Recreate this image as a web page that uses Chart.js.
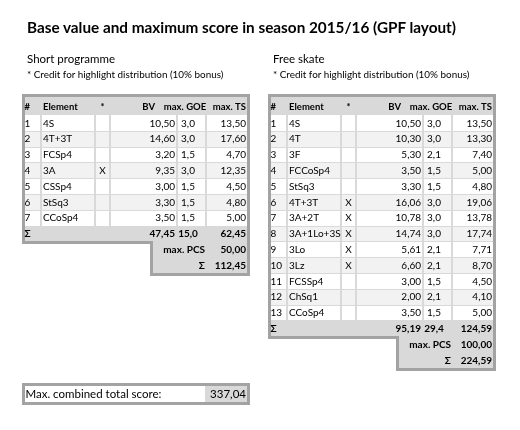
<!DOCTYPE html>
<html>
<head>
<meta charset="utf-8">
<title>Base value and maximum score in season 2015/16</title>
<script src="https://cdn.jsdelivr.net/npm/chart.js@4.4.0/dist/chart.umd.min.js"></script>
<style>
  body { margin: 0; background: #fff; }
  #wrap { position: relative; width: 520px; height: 430px; font-family: Lato, "Open Sans", sans-serif; color: #000; }
  #scores { position: absolute; left: 0; top: 0; }
  .txt { position: absolute; white-space: nowrap; }
  .title { left: 27px; top: 17px; font-size: 15.3px; font-weight: bold; line-height: 20px; }
  .section { top: 51px; font-size: 11.5px; line-height: 16px; }
  .note { top: 68px; font-size: 9.9px; line-height: 13px; }
</style>
</head>
<body>
<div id="wrap">
  <canvas id="scores" width="520" height="430"></canvas>
  <div class="txt title">Base value and maximum score in season 2015/16 (GPF layout)</div>
  <div class="txt section" style="left:27px">Short programme</div>
  <div class="txt note" style="left:27px">* Credit for highlight distribution (10% bonus)</div>
  <div class="txt section" style="left:273px">Free skate</div>
  <div class="txt note" style="left:273px">* Credit for highlight distribution (10% bonus)</div>
</div>
<script>
const HEADERS = ["#", "Element", "*", "BV", "max. GOE", "max. TS"];

// short programme
const SP_ELEMENTS = ["4S", "4T+3T", "FCSp4", "3A", "CSSp4", "StSq3", "CCoSp4"];
const SP_BONUS = ["", "", "", "X", "", "", ""];
const SP_BV = [10.50, 14.60, 3.20, 9.35, 3.00, 3.30, 3.50];
const SP_GOE = [3.0, 3.0, 1.5, 3.0, 1.5, 1.5, 1.5];
const SP_TS = [13.50, 17.60, 4.70, 12.35, 4.50, 4.80, 5.00];
const SP_SUMS = [47.45, 15.0, 62.45];
const SP_PCS = 50.00;
const SP_TOTAL = 112.45;

// free skate
const FS_ELEMENTS = ["4S", "4T", "3F", "FCCoSp4", "StSq3", "4T+3T", "3A+2T", "3A+1Lo+3S", "3Lo", "3Lz", "FCSSp4", "ChSq1", "CCoSp4"];
const FS_BONUS = ["", "", "", "", "", "X", "X", "X", "X", "X", "", "", ""];
const FS_BV = [10.50, 10.30, 5.30, 3.50, 3.30, 16.06, 10.78, 14.74, 5.61, 6.60, 3.00, 2.00, 3.50];
const FS_GOE = [3.0, 3.0, 2.1, 1.5, 1.5, 3.0, 3.0, 3.0, 2.1, 2.1, 1.5, 2.1, 1.5];
const FS_TS = [13.50, 13.30, 7.40, 5.00, 4.80, 19.06, 13.78, 17.74, 7.71, 8.70, 4.50, 4.10, 5.00];
const FS_SUMS = [95.19, 29.4, 124.59];
const FS_PCS = 100.00;
const FS_TOTAL = 224.59;

const COMBINED_LABEL = "Max. combined total score:";
const COMBINED_TOTAL = 337.04;

// layout (x in px units, y in table rows)
const ROW_H = 15.8;
const FIRST_ROW_TOP = 115;
const Y_MIN = 1 - FIRST_ROW_TOP / ROW_H;
const Y_MAX = Y_MIN + 430 / ROW_H;
const HEADER_TOP = 1 - 18 / ROW_H;
const BOX_ROW = 1 + (386 - FIRST_ROW_TOP) / ROW_H;
const SP_LEFT = 22, FS_LEFT = 268;
const TABLE_W = 228, BORDER = 3;
const COL_EDGES = [3, 19, 73, 88, 155, 184, 225];
const COL_X = [2.5, 21, 80.5, 153, 166, 224];
const HEAD_X = [2.5, 21, 80.5, 133, 163, 224];
const COL_ALIGN = ["left", "left", "center", "right", "center", "right"];
const BLOCK_X = 131, LABEL_X = 183, BOX_VALUE_X = 183;

const BORDER_COLOR = "#a3a3a3";
const GRAY = "#d9d9d9";
const ALT = "#f2f2f2";
const SEP = "#d9d9d9";

const fmt2 = v => v.toFixed(2).replace(".", ",");
const fmt1 = v => v.toFixed(1).replace(".", ",");

function cell(x, y, text, align, bold, head) {
  return { x, y, text, align, bold: !!bold, head: !!head };
}

function buildTable(left, elements, bonus, bv, goe, ts, sums, pcs, total) {
  const pts = [];
  const headMid = (HEADER_TOP + 1) / 2;
  HEADERS.forEach((h, c) => pts.push(cell(left + HEAD_X[c], headMid, h, COL_ALIGN[c], true, true)));
  elements.forEach((el, i) => {
    const y = i + 1.5;
    const row = [String(i + 1), el, bonus[i], fmt2(bv[i]), fmt1(goe[i]), fmt2(ts[i])];
    row.forEach((t, c) => { if (t) pts.push(cell(left + COL_X[c], y, t, COL_ALIGN[c])); });
  });
  const n = elements.length;
  pts.push(cell(left + COL_X[0], n + 1.5, "Σ", "left", true));
  pts.push(cell(left + COL_X[3], n + 1.5, fmt2(sums[0]), "right", true));
  pts.push(cell(left + COL_X[4], n + 1.5, fmt1(sums[1]), "center", true));
  pts.push(cell(left + COL_X[5], n + 1.5, fmt2(sums[2]), "right", true));
  pts.push(cell(left + LABEL_X, n + 2.5, "max. PCS", "right", true));
  pts.push(cell(left + COL_X[5], n + 2.5, fmt2(pcs), "right", true));
  pts.push(cell(left + LABEL_X, n + 3.5, "Σ", "right", true));
  pts.push(cell(left + COL_X[5], n + 3.5, fmt2(total), "right", true));
  return pts;
}

function drawFrame(chart, left, n) {
  const { ctx, scales: { x, y } } = chart;
  const px = v => Math.round(x.getPixelForValue(left + v));
  const py = v => Math.round(y.getPixelForValue(v));
  const xL = px(0), xR = px(TABLE_W), xIn = px(BORDER), xOut = px(TABLE_W - BORDER), xB = px(BLOCK_X);
  const yT = py(HEADER_TOP), yS = py(n + 2), yE = py(n + 4);
  ctx.save();
  ctx.fillStyle = BORDER_COLOR;
  ctx.beginPath();
  ctx.moveTo(xL, yT - BORDER);
  ctx.lineTo(xR, yT - BORDER);
  ctx.lineTo(xR, yE + BORDER);
  ctx.lineTo(xB - BORDER, yE + BORDER);
  ctx.lineTo(xB - BORDER, yS + BORDER);
  ctx.lineTo(xL, yS + BORDER);
  ctx.closePath();
  ctx.fill();

  ctx.fillStyle = GRAY;
  ctx.fillRect(xIn, yT, xOut - xIn, py(1) - yT);
  for (let r = 1; r <= n; r++) {
    ctx.fillStyle = r % 2 ? "#ffffff" : ALT;
    ctx.fillRect(xIn, py(r), xOut - xIn, py(r + 1) - py(r));
  }
  ctx.fillStyle = GRAY;
  ctx.fillRect(xIn, py(n + 1), xOut - xIn, yS - py(n + 1));
  ctx.fillRect(xB, yS, xOut - xB, yE - yS);

  ctx.strokeStyle = SEP;
  ctx.lineWidth = 2;
  ctx.beginPath();
  COL_EDGES.slice(1, -1).forEach(e => {
    ctx.moveTo(px(e), py(1));
    ctx.lineTo(px(e), py(n + 1));
  });
  ctx.stroke();
  ctx.lineWidth = 1;
  ctx.beginPath();
  for (let r = 2; r <= n; r++) {
    ctx.moveTo(xIn, py(r) + 0.5);
    ctx.lineTo(xOut, py(r) + 0.5);
  }
  ctx.stroke();
  ctx.restore();
}

function drawBox(chart, left) {
  const { ctx, scales: { x, y } } = chart;
  const px = v => Math.round(x.getPixelForValue(left + v));
  const y0 = Math.round(y.getPixelForValue(BOX_ROW)), y1 = Math.round(y.getPixelForValue(BOX_ROW + 1));
  ctx.save();
  ctx.fillStyle = BORDER_COLOR;
  ctx.fillRect(px(0), y0 - BORDER, px(TABLE_W) - px(0), y1 - y0 + 2 * BORDER);
  ctx.fillStyle = "#ffffff";
  ctx.fillRect(px(BORDER), y0, px(TABLE_W - BORDER) - px(BORDER), y1 - y0);
  ctx.fillStyle = GRAY;
  ctx.fillRect(px(BOX_VALUE_X), y0, px(TABLE_W - BORDER) - px(BOX_VALUE_X), y1 - y0);
  ctx.restore();
}

const tablePlugin = {
  id: "scoreTables",
  beforeDatasetsDraw(chart) {
    drawFrame(chart, SP_LEFT, SP_ELEMENTS.length);
    drawFrame(chart, FS_LEFT, FS_ELEMENTS.length);
    drawBox(chart, SP_LEFT);
  },
  afterDatasetsDraw(chart) {
    const ctx = chart.ctx;
    ctx.save();
    ctx.fillStyle = "#000";
    ctx.textBaseline = "middle";
    chart.data.datasets.forEach((ds, i) => {
      const meta = chart.getDatasetMeta(i);
      meta.data.forEach((pt, j) => {
        const d = ds.data[j];
        const size = d.head ? ds.fontSize - 0.5 : ds.fontSize;
        ctx.font = (d.bold ? "bold " : "") + size + "px Lato, 'Open Sans', sans-serif";
        ctx.textAlign = d.align;
        ctx.fillText(d.text, pt.x, pt.y + 0.5);
      });
    });
    ctx.restore();
  }
};

new Chart(document.getElementById("scores"), {
  type: "scatter",
  data: {
    datasets: [
      {
        label: "Short programme",
        data: buildTable(SP_LEFT, SP_ELEMENTS, SP_BONUS, SP_BV, SP_GOE, SP_TS, SP_SUMS, SP_PCS, SP_TOTAL),
        pointRadius: 0,
        fontSize: 10,
      },
      {
        label: "Free skate",
        data: buildTable(FS_LEFT, FS_ELEMENTS, FS_BONUS, FS_BV, FS_GOE, FS_TS, FS_SUMS, FS_PCS, FS_TOTAL),
        pointRadius: 0,
        fontSize: 10,
      },
      {
        label: "Combined",
        data: [
          cell(SP_LEFT + 3.5, BOX_ROW + 0.5, COMBINED_LABEL, "left"),
          cell(SP_LEFT + 224, BOX_ROW + 0.5, fmt2(COMBINED_TOTAL), "right"),
        ],
        pointRadius: 0,
        fontSize: 11.5,
      },
    ],
  },
  options: {
    responsive: false,
    animation: false,
    events: [],
    layout: { padding: 0 },
    plugins: { legend: { display: false }, tooltip: { enabled: false } },
    scales: {
      x: { type: "linear", display: false, min: 0, max: 520 },
      y: { type: "linear", display: false, reverse: true, min: Y_MIN, max: Y_MAX },
    },
  },
  plugins: [tablePlugin],
});
</script>
</body>
</html>
